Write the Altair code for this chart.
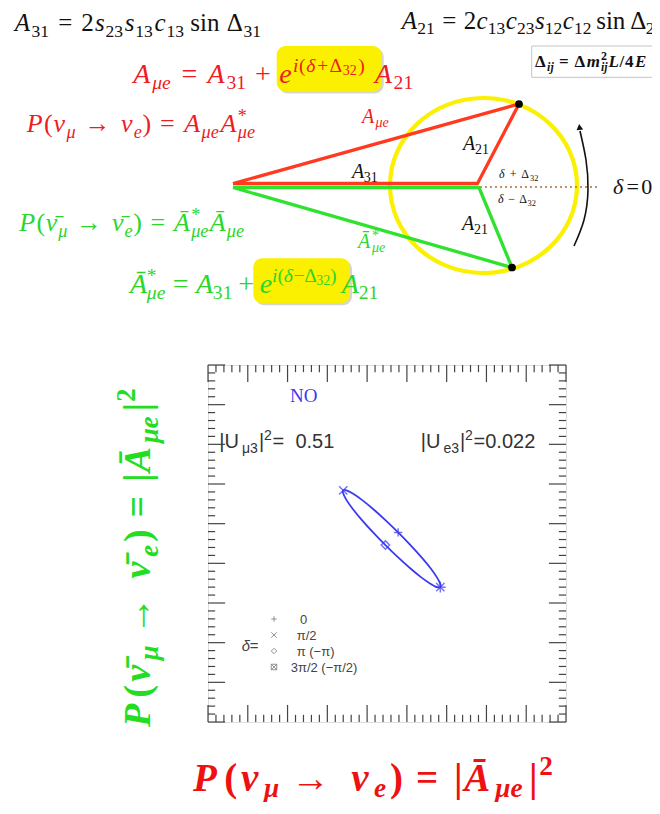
import altair as alt
import pandas as pd

# ---------------- main plot values (data units) ----------------
ELL_X = [4.78, 4.46, 4.15, 3.87, 3.64, 3.48, 3.40, 3.40, 3.48, 3.64, 3.87, 4.15,
         4.46, 4.78, 5.09, 5.37, 5.60, 5.76, 5.84, 5.84, 5.76, 5.60, 5.37, 5.09]
ELL_Y = [4.78, 5.09, 5.37, 5.60, 5.76, 5.84, 5.84, 5.76, 5.60, 5.37, 5.09, 4.78,
         4.46, 4.15, 3.87, 3.64, 3.48, 3.40, 3.40, 3.48, 3.64, 3.87, 4.15, 4.46]
MARK_DELTA = ["0", "π/2", "π", "3π/2"]
MARK_X = [4.78, 3.40, 4.46, 5.84]
MARK_Y = [4.78, 5.84, 4.46, 3.40]
MAJOR_TICKS = list(range(10))
MINOR_TICKS = [round(i * 0.2, 1) for i in range(46) if i % 5 != 0]

# ---------------- diagram values (slide pixel coordinates) ----------------
RED_PATH_X = [233, 477.5, 519, 233]
RED_PATH_Y = [183.5, 183.5, 104, 183.5]
GREEN_PATH_X = [233, 479, 512, 233]
GREEN_PATH_Y = [187.5, 187.5, 267.5, 187.5]
DOT_X = [519, 512]
DOT_Y = [104, 267.5]
CIRCLE_X = [483.5]
CIRCLE_Y = [185.5]
ARROW_X = [574, 584, 588, 586, 580]
ARROW_Y = [246, 220, 190, 160, 131]
LEG_SYM_Y = [619, 635, 651, 667]
LEG_LABELS = ["0", "π/2", "π (−π)", "3π/2 (−π/2)"]

# ---------------- styles ----------------
BLUE = "#3b3bee"
RED_T = "#ee1c22"
RED_L = "#ff3a1f"
GRN_T = "#2cd62c"
GRN_L = "#2ee22e"
YEL = "#fbf000"
BLK = "#111111"
GRY = "#444444"

PLUS = "M-1,0L1,0M0,-1L0,1"
CROSS = "M-1,-1L1,1M-1,1L1,-1"
DIAM = "M0,-1L1,0L0,1L-1,0Z"
STAR = "M-1,-1L1,1M-1,1L1,-1M0,-1.3L0,1.3M-1.3,0L1.3,0"
SQX = "M-1,-1L1,-1L1,1L-1,1ZM-1,-1L1,1M-1,1L1,-1"
ELLIPSE = "M1,0A1,0.936,0,1,1,-1,0A1,0.936,0,1,1,1,0Z"
MARK_SHAPES = [PLUS, CROSS, DIAM, STAR]
LEG_SHAPES = [PLUS, CROSS, DIAM, SQX]

SX = alt.Scale(domain=[0, 9], nice=False, zero=False)
PXS = alt.Scale(domain=[208, 566], range=[0, 358], nice=False, zero=False)
PYS = alt.Scale(domain=[365, 722], range=[0, 357], nice=False, zero=False)


def PX(f="x"):
    return alt.X(f"{f}:Q", scale=PXS, axis=None)


def PY(f="y"):
    return alt.Y(f"{f}:Q", scale=PYS, axis=None)


# ---------------- tiny math-text layout helper ----------------
TW = {'A': .611, 'P': .611, 'e': .444, 's': .389, 'c': .444, 'i': .278, 'j': .278,
      'm': .722, 'L': .556, 'E': .611, 'U': .722, 'N': .722, 'O': .722, 'n': .5,
      'μ': .5, 'ν': .45, 'δ': .5, 'Δ': .612, 'π': .55, '=': .564, '+': .564,
      '−': .564, '(': .333, ')': .333, '→': 1.0, '*': .5, '|': .2, '/': .278,
      ' ': .25, '\u00a0': .25, '.': .25}
FAMF = {"times": 1.0, "sans": 1.08}
FONTS = {"times": "Liberation Serif", "sans": "Liberation Sans"}
LEVEL = {'m': (1.0, 0.0), 'b': (0.7, 0.22), 'p': (0.7, -0.40), 'q': (0.5, -0.27)}


def cw(ch):
    if ch == '\u0304':
        return 0.0
    if ch.isdigit():
        return 0.5
    return TW.get(ch, 0.5)


def M(t, it=True):
    return (t, 'm', it)


def R(t):
    return (t, 'm', False)


def B(t, it=False):
    return (t, 'b', it)


def P_(t, it=False):
    return (t, 'p', it)


def Q(t):
    return (t, 'q', False)


def G(e):
    return ('gap', e)


def ST(a, b):
    return ('stack', a, b)


TEXT_ROWS = []


def layout(tokens, x0, y0, S, color, fam="times", bold=False, target=None, up=False, subdy=None):
    f = FAMF[fam] * (1.07 if bold else 1.0)

    def tw(t):
        return sum(cw(c) for c in t[0]) * LEVEL[t[1]][0] * S * f

    def w(t):
        if t[0] == 'gap':
            return t[1] * S * f
        if t[0] == 'stack':
            return max(tw(t[1]), tw(t[2]))
        return tw(t)

    nat = sum(w(t) for t in tokens)
    k = target / nat if target else 1.0

    def emit(t, a):
        text, lvl, it = t
        sc, dy = LEVEL[lvl]
        if lvl == 'b' and subdy is not None:
            dy = subdy
        if up:
            x, y = x0 + dy * S, y0 - a
        else:
            x, y = x0 + a, y0 + dy * S
        TEXT_ROWS.append(dict(x=x, y=y, text=text, fs=sc * S, col=color,
                              it=it, bold=bold, fam=fam, up=up))

    adv = 0.0
    for t in tokens:
        if t[0] == 'stack':
            emit(t[1], adv * k)
            emit(t[2], adv * k)
        elif t[0] != 'gap':
            emit(t, adv * k)
        adv += w(t)


# formulas on the slide
layout([M('A'), B('31'), G(.28), R('='), G(.28), R('2'), M('s'), B('23'), M('s'), B('13'),
        M('c'), B('13'), G(.17), R('sin'), G(.17), R('Δ'), B('31')],
       14.7, 31, 25, BLK, target=248)
layout([M('A'), B('21'), G(.28), R('='), G(.28), R('2'), M('c'), B('13'), M('c'), B('23'),
        M('s'), B('12'), M('c'), B('12'), G(.17), R('sin'), G(.17), R('Δ'), B('21')],
       401.7, 28.5, 25, BLK, target=262)
layout([M('A'), B('μe', True), G(.28), R('='), G(.28), M('A'), B('31'), G(.22), R('+'), G(.22),
        M('e'), P_('i', True), P_('('), P_('δ', True), P_('+'), P_('Δ'), Q('32'), P_(')'),
        G(.3), M('A'), B('21')],
       133.3, 83, 28, RED_T, target=282)
layout([M('A\u0304'), ST(P_('*'), B('μe', True)), G(.28), R('='), G(.28), M('A'), B('31'),
        G(.22), R('+'), G(.22), M('e'), P_('i', True), P_('('), P_('δ', True), P_('−'),
        P_('Δ'), Q('32'), P_(')'), G(.2), M('A'), B('21')],
       130, 293, 28, GRN_T, target=248)
layout([M('P'), R('('), M('ν'), B('μ', True), G(.28), R('→'), G(.28), M('ν'), B('e', True),
        R(')'), G(.28), R('='), G(.28), M('A'), B('μe', True), M('A'),
        ST(P_('*'), B('μe', True))],
       26.7, 132, 26, RED_T, target=230)
layout([M('P'), R('('), M('ν\u0304'), B('μ', True), G(.28), R('→'), G(.28), M('ν\u0304'),
        B('e', True), R(')'), G(.28), R('='), G(.28), M('A\u0304'), ST(P_('*'), B('μe', True)),
        M('A\u0304'), B('μe', True)],
       19.3, 231, 26, GRN_T, target=226)
layout([R('Δ'), B('ij', True), G(.22), R('='), G(.22), R('Δ'), M('m'),
        ST(P_('2'), B('ij', True)), M('L'), R('/'), R('4'), M('E')],
       535, 67, 17, BLK, bold=True, target=112)

# diagram labels
layout([M('A'), B('μe', True)], 362, 123, 20, RED_T, target=28)
layout([M('A'), B('21')], 463, 150, 20, BLK, target=26)
layout([M('A'), B('31')], 352, 177.5, 20, BLK, target=25)
layout([M('A'), B('21')], 462, 229.5, 20, BLK, target=26)
layout([M('A\u0304'), ST(P_('*'), B('μe', True))], 358, 248, 20, GRN_T, target=29)
layout([M('δ'), G(.25), R('+'), G(.25), R('Δ'), B('32')], 499, 178, 12, BLK, target=41)
layout([M('δ'), G(.25), R('−'), G(.25), R('Δ'), B('32')], 498, 203, 12, BLK, target=39)
layout([M('δ'), G(.28), R('='), G(.28), R('0')], 613, 194, 22, BLK, target=37)

# plot annotations
layout([R('NO')], 290, 401.5, 19, BLUE, target=26.7)
layout([R('|U'), B('μ3'), R('|'), P_('2'), R('=\u00a0\u00a00.51')], 219.3, 448.3, 20, "#333333",
       fam="sans", target=122.4)
layout([R('|U'), B('e3'), R('|'), P_('2'), R('=0.022')], 420.7, 448.3, 20, "#333333",
       fam="sans", target=122.6)
layout([M('δ'), R('=')], 241.7, 651, 15, GRY, fam="sans", target=17)
for lab, lx, ly in zip(LEG_LABELS, [300, 296.7, 296.7, 290.7], [623.5, 639.5, 655.5, 671.5]):
    layout([R(lab)], lx, ly, 13, GRY, fam="sans")

# axis titles
layout([M('P'), R('('), M('ν'), B('μ', True), G(.18), R('→'), G(.18), M('ν'), B('e', True),
        R(')'), G(.18), R('='), G(.18), R('|'), M('A\u0304'), B('μe', True), R('|'), P_('2')],
       193, 791, 39, "#ee1111", bold=True, target=364, subdy=0.15)
layout([M('P'), R('('), M('ν\u0304'), B('μ', True), G(.18), R('→'), G(.18), M('ν\u0304'),
        B('e', True), R(')'), G(.18), R('='), G(.18), R('|'), M('A\u0304'), B('μe', True),
        R('|'), P_('2')],
       150, 727, 38, "#22dd22", bold=True, target=342, up=True)

# ---------------- main plot layers ----------------
rule_rows = []
for t in MAJOR_TICKS:
    rule_rows += [dict(x=t, x2=t, y=0, y2=0.43), dict(x=t, x2=t, y=9, y2=8.57),
                  dict(x=0, x2=0.43, y=t, y2=t), dict(x=9, x2=8.57, y=t, y2=t)]
for t in MINOR_TICKS:
    rule_rows += [dict(x=t, x2=t, y=0, y2=0.18), dict(x=t, x2=t, y=9, y2=8.82),
                  dict(x=0, x2=0.18, y=t, y2=t), dict(x=9, x2=8.82, y=t, y2=t)]
rules_df = pd.DataFrame(rule_rows)

axis_common = dict(values=MAJOR_TICKS, title=None, ticks=False, domain=False, grid=False,
                   labelFont="Liberation Sans", labelFontSize=14, labelColor="#444444",
                   labelFlush=False, labelOverlap=False)
tick_layer = alt.Chart(rules_df).mark_rule(color="#444444", strokeWidth=1.2).encode(
    x=alt.X("x:Q", scale=SX, axis=alt.Axis(labelPadding=8, **axis_common)),
    x2="x2:Q",
    y=alt.Y("y:Q", scale=SX, axis=alt.Axis(labelPadding=9, **axis_common)),
    y2="y2:Q",
)

ell_df = pd.DataFrame({"x": ELL_X, "y": ELL_Y, "o": list(range(len(ELL_X)))})
ell_layer = alt.Chart(ell_df).mark_line(color=BLUE, strokeWidth=1.8,
                                        interpolate="cardinal-closed").encode(
    x=alt.X("x:Q", scale=SX, axis=None), y=alt.Y("y:Q", scale=SX, axis=None), order="o:Q")

mk_df = pd.DataFrame({"delta": MARK_DELTA, "x": MARK_X, "y": MARK_Y, "shp": MARK_SHAPES})
mk_layer = alt.Chart(mk_df).mark_point(filled=False, color=BLUE, strokeWidth=1.5, size=70).encode(
    x=alt.X("x:Q", scale=SX, axis=None), y=alt.Y("y:Q", scale=SX, axis=None),
    shape=alt.Shape("shp:N", scale=None))

plot = alt.layer(tick_layer, ell_layer, mk_layer)

# ---------------- slide / annotation layers ----------------
box_df = pd.DataFrame({"x": [276.7, 253.3], "x2": [381.7, 350], "y": [46, 258.3], "y2": [91.5, 303.3]})
shadow_df = box_df + 2
shadow = alt.Chart(shadow_df).mark_rect(color="#d6d6cc", cornerRadius=9).encode(
    x=PX(), x2="x2:Q", y=PY(), y2="y2:Q")
boxes = alt.Chart(box_df).mark_rect(color=YEL, cornerRadius=9).encode(
    x=PX(), x2="x2:Q", y=PY(), y2="y2:Q")
fbox = alt.Chart(pd.DataFrame({"x": [531.7], "x2": [680], "y": [46], "y2": [77.3]})).mark_rect(
    fill="white", stroke="#c4c4c4", strokeWidth=1).encode(x=PX(), x2="x2:Q", y=PY(), y2="y2:Q")

circle = alt.Chart(pd.DataFrame({"x": CIRCLE_X, "y": CIRCLE_Y})).mark_point(
    shape=ELLIPSE, filled=False, color=YEL, strokeWidth=4.2, size=187 ** 2, opacity=1).encode(
    x=PX(), y=PY())

dotted = alt.Chart(pd.DataFrame({"x": [480], "x2": [600], "y": [187]})).mark_rule(
    color="#a8703c", strokeWidth=1.3, strokeDash=[2, 3]).encode(x=PX(), x2="x2:Q", y=PY())

path_rows = []
for i, (x, y) in enumerate(zip(RED_PATH_X, RED_PATH_Y)):
    path_rows.append(dict(grp="red", o=i, x=x, y=y, col=RED_L))
for i, (x, y) in enumerate(zip(GREEN_PATH_X, GREEN_PATH_Y)):
    path_rows.append(dict(grp="green", o=i, x=x, y=y, col=GRN_L))
paths = alt.Chart(pd.DataFrame(path_rows)).mark_line(strokeWidth=3.3, strokeJoin="round").encode(
    x=PX(), y=PY(), detail="grp:N", order="o:Q", color=alt.Color("col:N", scale=None))

dots = alt.Chart(pd.DataFrame({"x": DOT_X, "y": DOT_Y})).mark_point(
    filled=True, color="black", size=60, opacity=1).encode(x=PX(), y=PY())

arrow = alt.Chart(pd.DataFrame({"x": ARROW_X, "y": ARROW_Y, "o": list(range(len(ARROW_X)))})).mark_line(
    color=BLK, strokeWidth=1.6, interpolate="natural").encode(x=PX(), y=PY(), order="o:Q")
arrow_head = alt.Chart(pd.DataFrame({"x": [579.5], "y": [127]})).mark_point(
    shape="triangle-up", filled=True, color=BLK, size=45, angle=352, opacity=1).encode(x=PX(), y=PY())

leg_df = pd.DataFrame({"x": [274] * 4, "y": LEG_SYM_Y, "shp": LEG_SHAPES})
leg_syms = alt.Chart(leg_df).mark_point(filled=False, color="#555555", strokeWidth=0.9, size=30).encode(
    x=PX(), y=PY(), shape=alt.Shape("shp:N", scale=None))

text_df = pd.DataFrame(TEXT_ROWS)
text_layers = []
for (fam, it, bold, up), sub in text_df.groupby(["fam", "it", "bold", "up"]):
    text_layers.append(
        alt.Chart(sub.drop(columns=["fam", "it", "bold", "up"])).mark_text(
            align="left", baseline="alphabetic", font=FONTS[fam],
            fontStyle="italic" if it else "normal",
            fontWeight="bold" if bold else "normal",
            angle=270 if up else 0,
        ).encode(x=PX(), y=PY(), text="text:N",
                 size=alt.Size("fs:Q", scale=None),
                 color=alt.Color("col:N", scale=None))
    )

annot = alt.layer(shadow, boxes, fbox, circle, dotted, paths, dots, arrow, arrow_head,
                  leg_syms, *text_layers)

chart = alt.layer(plot, annot).resolve_scale(x="independent", y="independent").properties(
    width=358, height=357,
    padding={"left": 200, "top": 357, "right": 86, "bottom": 80},
    autosize=alt.AutoSizeParams(type="none"),
).configure_view(stroke="#333333", strokeWidth=1.5).configure(background="white")

chart.save("out.html", embed_options={"renderer": "svg", "actions": False})
